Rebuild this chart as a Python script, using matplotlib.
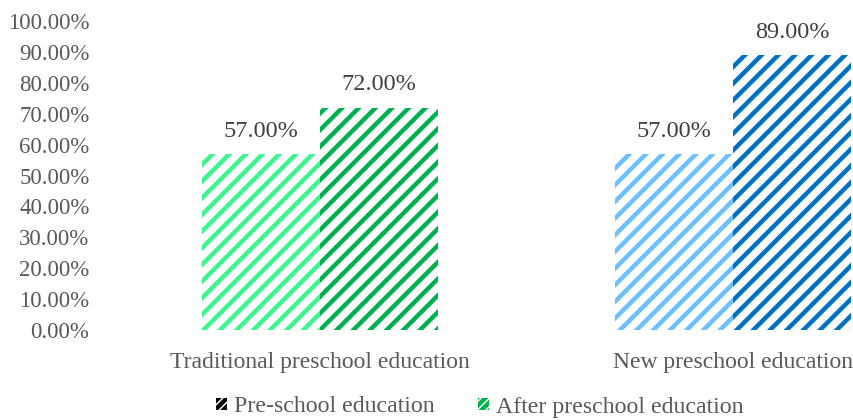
import numpy as np
import matplotlib.pyplot as plt
from matplotlib.patches import Patch
from matplotlib.ticker import FuncFormatter

plt.rcParams['font.family'] = ['Liberation Serif', 'DejaVu Serif']
plt.rcParams['hatch.linewidth'] = 3.2

# Данные
categories = ['Traditional preschool education', 'New preschool education']
before = [57.0, 57.0]
after = [72.0, 89.0]
colors_before = ['#3df58d', '#6cc0ff']
colors_after = ['#00b050', '#0070c0']
series_names = ['Pre-school education', 'After preschool education']

fig = plt.figure(figsize=(8.54, 4.2), dpi=100)
ax = fig.add_axes([113 / 854, 1 - 330 / 420, (854 - 113) / 854, (330 - 21) / 420])

x = np.arange(len(categories))
w = 0.286

for i in range(len(categories)):
    ax.bar(x[i] - w / 2, before[i], w, color='white', edgecolor=colors_before[i],
           hatch='//', linewidth=0)
    ax.bar(x[i] + w / 2, after[i], w, color='white', edgecolor=colors_after[i],
           hatch='//', linewidth=0)
    ax.text(x[i] - w / 2, before[i] + 4.0, f'{before[i]:.2f}%', ha='center', va='bottom',
            fontsize=17.5, color='#404040')
    ax.text(x[i] + w / 2, after[i] + 4.0, f'{after[i]:.2f}%', ha='center', va='bottom',
            fontsize=17.5, color='#404040')

ax.set_xlim(-0.501, 1.293)
ax.set_ylim(0, 100)
ax.set_yticks(np.arange(0, 101, 10))
ax.yaxis.set_major_formatter(FuncFormatter(lambda v, p: f'{v:.2f}%'))
ax.set_xticks(x)
ax.set_xticklabels(categories)
ax.tick_params(axis='both', length=0, labelcolor='#595959')
ax.tick_params(axis='y', pad=17, labelsize=16.5)
ax.tick_params(axis='x', pad=16, labelsize=17)
for s in ax.spines.values():
    s.set_visible(False)

handles = [Patch(facecolor='white', edgecolor='black', hatch='////', linewidth=0),
           Patch(facecolor='white', edgecolor='#00b050', hatch='////', linewidth=0)]
fig.legend(handles, series_names, loc='center', bbox_to_anchor=(480 / 854, 1 - 407 / 420),
           ncol=2, frameon=False, fontsize=17.2, handlelength=0.45, handleheight=0.45,
           handletextpad=0.3, columnspacing=1.8, labelcolor='#595959')

fig.savefig('out.png', dpi=100)
